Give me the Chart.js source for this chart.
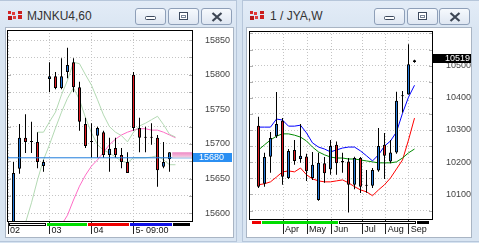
<!DOCTYPE html>
<html>
<head>
<meta charset="utf-8">
<script src="https://cdn.jsdelivr.net/npm/chart.js@4.4.1/dist/chart.umd.min.js"></script>
<style>
  body { margin:0; width:479px; height:243px; overflow:hidden; position:relative; background:#d6e3f1; font-family:"Liberation Sans", Arial, sans-serif; }
  .win { position:absolute; top:0; height:242px; background:linear-gradient(#e3ecf7, #d9e5f2 30px, #d9e5f2); border:1px solid #b6c6da; box-sizing:border-box; }
  .ttl { position:absolute; top:8px; font-size:12px; line-height:16px; color:#333; white-space:nowrap; }
  .btn { position:absolute; top:8px; width:31px; height:17px; box-sizing:border-box; border:1px solid #8e9fb8; border-radius:3px; background:linear-gradient(#f6f9fd, #dfe7f2); }
  .btn svg, .ico { position:absolute; left:0; top:0; }
  .pane { position:absolute; top:27px; height:211px; background:#fff; border:1px solid #a9b5c4; box-sizing:border-box; }
  canvas { position:absolute; top:28px; }
</style>
</head>
<body>
<div class="win" style="left:-1px;width:238px"></div>
<div class="win" style="left:242px;width:238px"></div>

<svg class="ico" style="left:8px;top:11px" width="15" height="9">
  <rect x="0" y="0" width="3" height="3" fill="#d42626"/><rect x="4" y="1" width="3" height="3" fill="#e23a3a"/>
  <rect x="10" y="0" width="4" height="3" fill="#c81e1e"/><rect x="0" y="5" width="4" height="4" fill="#b81818"/>
  <rect x="5" y="5" width="3" height="3" fill="#e04040"/><rect x="10" y="4" width="4" height="4" fill="#d02222"/>
</svg>
<div class="ttl" style="left:27px">MJNKU4,60</div>
<svg class="ico" style="left:250px;top:11px" width="15" height="9">
  <rect x="0" y="0" width="3" height="3" fill="#d42626"/><rect x="4" y="1" width="3" height="3" fill="#e23a3a"/>
  <rect x="10" y="0" width="4" height="3" fill="#c81e1e"/><rect x="0" y="5" width="4" height="4" fill="#b81818"/>
  <rect x="5" y="5" width="3" height="3" fill="#e04040"/><rect x="10" y="4" width="4" height="4" fill="#d02222"/>
</svg>
<div class="ttl" style="left:270px">1 / JYA,W</div>

<div class="btn" style="left:135px"><svg width="31" height="17"><rect x="9.5" y="7.5" width="10" height="3" rx="1" fill="#fff" stroke="#3d4a5e"/></svg></div>
<div class="btn" style="left:168px"><svg width="31" height="17"><rect x="10.5" y="3.5" width="8" height="7" fill="#fff" stroke="#3d4a5e"/><rect x="12.5" y="6.5" width="4" height="2" fill="#fff" stroke="#7a8698"/></svg></div>
<div class="btn" style="left:201px"><svg width="31" height="17"><path d="M10.5 4 L19.5 12 M19.5 4 L10.5 12" stroke="#3d4654" stroke-width="2.2"/></svg></div>
<div class="btn" style="left:374px"><svg width="31" height="17"><rect x="9.5" y="7.5" width="10" height="3" rx="1" fill="#fff" stroke="#3d4a5e"/></svg></div>
<div class="btn" style="left:407px"><svg width="31" height="17"><rect x="10.5" y="3.5" width="8" height="7" fill="#fff" stroke="#3d4a5e"/><rect x="12.5" y="6.5" width="4" height="2" fill="#fff" stroke="#7a8698"/></svg></div>
<div class="btn" style="left:439px"><svg width="31" height="17"><path d="M10.5 4 L19.5 12 M19.5 4 L10.5 12" stroke="#3d4654" stroke-width="2.2"/></svg></div>

<div class="pane" style="left:5px;width:229px"></div>
<div class="pane" style="left:246px;width:226px"></div>

<canvas id="left" width="228" height="210" style="left:5px"></canvas>
<canvas id="right" width="225" height="210" style="left:246px"></canvas>

<script>
// ---- MJNKU4, 60 minute bars ----
const leftOpen  = [15570,15664,15709,15703,15703,15668,15794,15798,15781,15804,15818,15782,15729,15703,15712,15717,15684,15694,15684,15674,15800,15723,15709,15709,15709,15667,15678];
const leftHigh  = [15674,15729,15743,15732,15717,15677,15818,15804,15824,15839,15824,15790,15738,15730,15725,15719,15709,15709,15694,15688,15804,15738,15725,15730,15713,15703,15688];
const leftLow   = [15560,15657,15687,15687,15665,15660,15775,15779,15779,15795,15775,15719,15694,15680,15680,15680,15660,15680,15665,15658,15719,15688,15688,15699,15638,15665,15660];
const leftClose = [15658,15709,15703,15703,15674,15674,15798,15781,15798,15814,15782,15732,15697,15703,15723,15684,15693,15684,15674,15658,15723,15709,15709,15709,15662,15674,15688];
const leftAvgA  = [null,null,null,null,15717,15717,15732,15746,15771,15792,15818,15816,15800,15785,15764,15742,15725,15717,15712,15703,15717,15726,15730,15735,15740,15728,15714,15710];
const leftAvgB  = [null,null,15586,15615,15648,15677,15699,15723,15746,15766,15781,15764,15738,15716,15699,15691,15687,15681,15675,15673,15680,15680,15680,15681,15683,15677,15670,15670];
const leftAvgC  = [null,null,null,null,null,null,null,null,15583,15597,15619,15639,15655,15668,15677,15688,15699,15707,15713,15717,15720,15722,15722,15720,15720,15717,15713,15709];
const leftLast  = 15680;
const leftGrid  = [15600,15625,15650,15675,15700,15725,15750,15775,15800,15825,15850];
const leftLabels = [15600,15650,15700,15750,15800,15850];
const leftDays  = ['02','03','04','5- 09:00'];
const leftDayAt = [-0.9, 6, 13, 20];
const leftSessions = [-0.92, 5.5, 12.33, 19.33, 26.42, 29.42];

// ---- 1 / JYA, weekly bars ----
const rightOpen  = [10313,10133,10217,10281,10329,10151,10238,10210,10218,10151,10083,10197,10178,10254,10199,10202,10130,10213,10127,10127,10174,10254,10202,10230,10405,10410,10511];
const rightHigh  = [10341,10229,10294,10418,10337,10241,10269,10319,10226,10232,10229,10216,10269,10264,10229,10213,10217,10216,10176,10182,10306,10291,10269,10419,10421,10566,10518];
const rightLow   = [10120,10124,10167,10275,10130,10148,10192,10198,10142,10145,10080,10136,10161,10161,10167,10044,10116,10104,10105,10120,10170,10148,10197,10226,10354,10410,10509];
const rightClose = [10124,10216,10275,10319,10155,10235,10204,10220,10172,10192,10198,10166,10250,10197,10204,10130,10213,10124,10130,10176,10250,10220,10230,10391,10405,10504,10517];
const rightUpper = [10309,10309,10309,10334,10331,10312,10312,10315,10291,10260,10247,10241,10232,10238,10244,10247,10247,10235,10220,10204,10223,10250,10266,10294,10352,10402,10439];
const rightMid   = [10238,10254,10269,10281,10288,10288,10284,10278,10266,10247,10232,10223,10216,10213,10213,10210,10210,10207,10204,10201,10198,10198,10198,10201,10213,10229,10241];
const rightLower = [10130,10133,10139,10154,10170,10173,10170,10182,10161,10148,10142,10139,10139,10142,10145,10136,10124,10114,10108,10096,10114,10130,10151,10179,10207,10269,10337];
const rightLast  = 10519;
const rightGrid  = [10050,10100,10150,10200,10250,10300,10350,10400,10450,10500,10550,10600];
const rightLabels = [10100,10200,10300,10400,10500];
const rightMonths = ['Apr','May','Jun','Jul','Aug','Sep'];
const rightMonthAt = [4.1, 8.1, 12.2, 17.3, 21.2, 25.05];
const rightSessions = [-1.3, 0.45, 13.3, 26.25, 28.45];

const UP = '#2377d9', DOWN = '#e31b23';
Chart.defaults.font.family = '"Liberation Sans", Arial, sans-serif';

// frame, session strip, price box
const chrome = {
  id: 'chrome',
  afterDraw(chart, args, o) {
    const {ctx, chartArea: a, scales: {x, y}} = chart;
    ctx.save();
    // small ticks on both plot edges
    ctx.strokeStyle = '#b0b0b0';
    ctx.beginPath();
    y.ticks.forEach(t => {
      const py = Math.round(y.getPixelForValue(t.value)) + 0.5;
      ctx.moveTo(a.left + 1, py); ctx.lineTo(a.left + 4, py);
      ctx.moveTo(a.right - 4, py); ctx.lineTo(a.right - 1, py);
    });
    ctx.stroke();
    // pink band after the last bar
    if (o.band) {
      const x0 = x.getPixelForValue(o.band[0]);
      const y0 = y.getPixelForValue(o.band[1]), y1 = y.getPixelForValue(o.band[2]);
      const g = ctx.createLinearGradient(0, y0, 0, y1);
      g.addColorStop(0, '#ee86c4'); g.addColorStop(0.6, '#f3b5d8'); g.addColorStop(1, '#e6dde3');
      ctx.fillStyle = g;
      ctx.fillRect(x0, y0, a.right - x0, y1 - y0);
    }
    // session strip
    const s = o.sessions, yb = a.bottom + 1;
    for (let i = 0; i < s.length - 1; i++) {
      const x0 = Math.round(x.getPixelForValue(s[i])), x1 = Math.round(x.getPixelForValue(s[i + 1]));
      ctx.fillStyle = o.colors[i];
      ctx.fillRect(x0 + 1, yb, x1 - x0 - 1, 3);
      if (o.colors[i] === '#ffffff') {
        ctx.strokeStyle = '#000';
        ctx.strokeRect(x0 + 1.5, yb + 0.5, x1 - x0 - 2, 2);
      }
    }
    // plot frame
    ctx.strokeStyle = '#000';
    ctx.lineWidth = 1;
    ctx.strokeRect(a.left + 0.5, a.top + 0.5, a.width - 1, a.height - 1);
    // last price box
    const py = Math.round(y.getPixelForValue(o.last));
    ctx.fillStyle = o.boxColor;
    ctx.fillRect(a.right, py - 5, o.boxW, 9);
    ctx.fillStyle = '#fff';
    ctx.font = '9px "Liberation Sans", Arial, sans-serif';
    ctx.textBaseline = 'middle';
    ctx.fillText(String(o.last), a.right + o.textDx, py);
    ctx.restore();
  }
};

function line(vals, color, order) {
  return {
    type: 'line', order: order,
    data: vals.map((v, i) => v == null ? null : {x: i, y: v}).filter(Boolean),
    borderColor: color, borderWidth: 1, pointRadius: 0, tension: 0, fill: false
  };
}

function candleChart(id, d) {
  const idx = d.open.map((_, i) => i);
  const bodyColors = idx.map(i => d.close[i] > d.open[i] ? UP : (d.close[i] < d.open[i] ? DOWN : '#000'));
  const datasets = [
    { type: 'bar', order: 0, data: idx.map(i => ({x: i, y: [d.open[i], d.close[i]]})),
      backgroundColor: bodyColors, borderColor: '#000', borderWidth: 1, borderSkipped: false,
      maxBarThickness: 3, grouped: false, minBarLength: 1, inflateAmount: 0 },
    { type: 'bar', order: 1, data: idx.map(i => ({x: i, y: [d.low[i], d.high[i]]})),
      backgroundColor: '#000', borderWidth: 0, maxBarThickness: 1, grouped: false, inflateAmount: 0 }
  ].concat(d.lines);

  return new Chart(document.getElementById(id), {
    type: 'line',
    data: { datasets: datasets },
    options: {
      responsive: false, animation: false, devicePixelRatio: 1,
      layout: { padding: { left: d.padL, top: d.padT, right: 0, bottom: 0 } },
      plugins: { legend: { display: false }, tooltip: { enabled: false }, chrome: d.chrome },
      scales: {
        x: {
          type: 'linear', min: d.xMin, max: d.xMax, offset: false,
          afterBuildTicks: s => { s.ticks = d.tickAt.map(v => ({value: v})); },
          afterFit: s => { s.height = d.xAxisH; s.paddingLeft = 0; s.paddingRight = 0; },
          ticks: { autoSkip: false, maxRotation: 0, minRotation: 0, align: 'start', labelOffset: 2,
                   padding: d.xPad, color: '#111', font: { size: 9 }, callback: (v, i) => d.tickLabels[i] },
          grid: { offset: false, color: '#c4c4c4', tickLength: d.tickLen, tickColor: '#222', tickBorderDash: [], tickWidth: 1 },
          border: { display: false, dash: [1, 2] }
        },
        y: {
          type: 'linear', position: 'right', min: d.yMin, max: d.yMax,
          afterBuildTicks: s => { s.ticks = d.grid.map(v => ({value: v})); },
          afterFit: s => { s.width = d.yAxisW; s.paddingTop = 0; s.paddingBottom = 0; },
          ticks: { padding: d.yPad, color: '#444', font: { size: 9 }, callback: v => d.labels.includes(v) ? String(v) : '' },
          grid: { color: '#c4c4c4', drawTicks: false },
          border: { display: false, dash: [1, 2] }
        }
      }
    },
    plugins: [chrome]
  });
}

candleChart('left', {
  open: leftOpen, high: leftHigh, low: leftLow, close: leftClose,
  lines: [
    line(leftAvgA, '#b3d9b3', 2), line(leftAvgB, '#b3d9b3', 2), line(leftAvgC, '#ff6cc6', 2),
    { type: 'line', order: -1, data: [{x: -2, y: leftLast}, {x: 32, y: leftLast}],
      borderColor: '#1f7cdc', borderWidth: 1, pointRadius: 0 }
  ],
  padL: 2, padT: 2, xMin: -1.0833, xMax: 29.9167, yMin: 15587.2, yMax: 15864.7,
  tickAt: leftDayAt, tickLabels: leftDays, tickLen: 12, xPad: -8.4, xAxisH: 16,
  grid: leftGrid, labels: leftLabels, yPad: 12, yAxisW: 40,
  chrome: { sessions: leftSessions, colors: ['#ffffff', '#00dd00', '#ee0000', '#1010e6', '#000000'],
            last: leftLast, boxColor: '#2b8ff2', boxW: 39, textDx: 6,
            band: [26.45, leftClose[leftClose.length - 1], leftLast] }
});

candleChart('right', {
  open: rightOpen, high: rightHigh, low: rightLow, close: rightClose,
  lines: [ line(rightUpper, '#0000ff', 2), line(rightMid, '#008a00', 2), line(rightLower, '#ff0000', 2) ],
  padL: 3, padT: 3, xMin: -1.5833, xMax: 29.0833, yMin: 10020.5, yMax: 10607.5,
  tickAt: rightMonthAt, tickLabels: rightMonths, tickLen: 14, xPad: -9.9, xAxisH: 18,
  grid: rightGrid, labels: rightLabels, yPad: 13, yAxisW: 38,
  chrome: { sessions: rightSessions, colors: ['#ee0000', '#00dd00', '#ffffff', '#000000'],
            last: rightLast, boxColor: '#000000', boxW: 38, textDx: 12 }
});
</script>
</body>
</html>
